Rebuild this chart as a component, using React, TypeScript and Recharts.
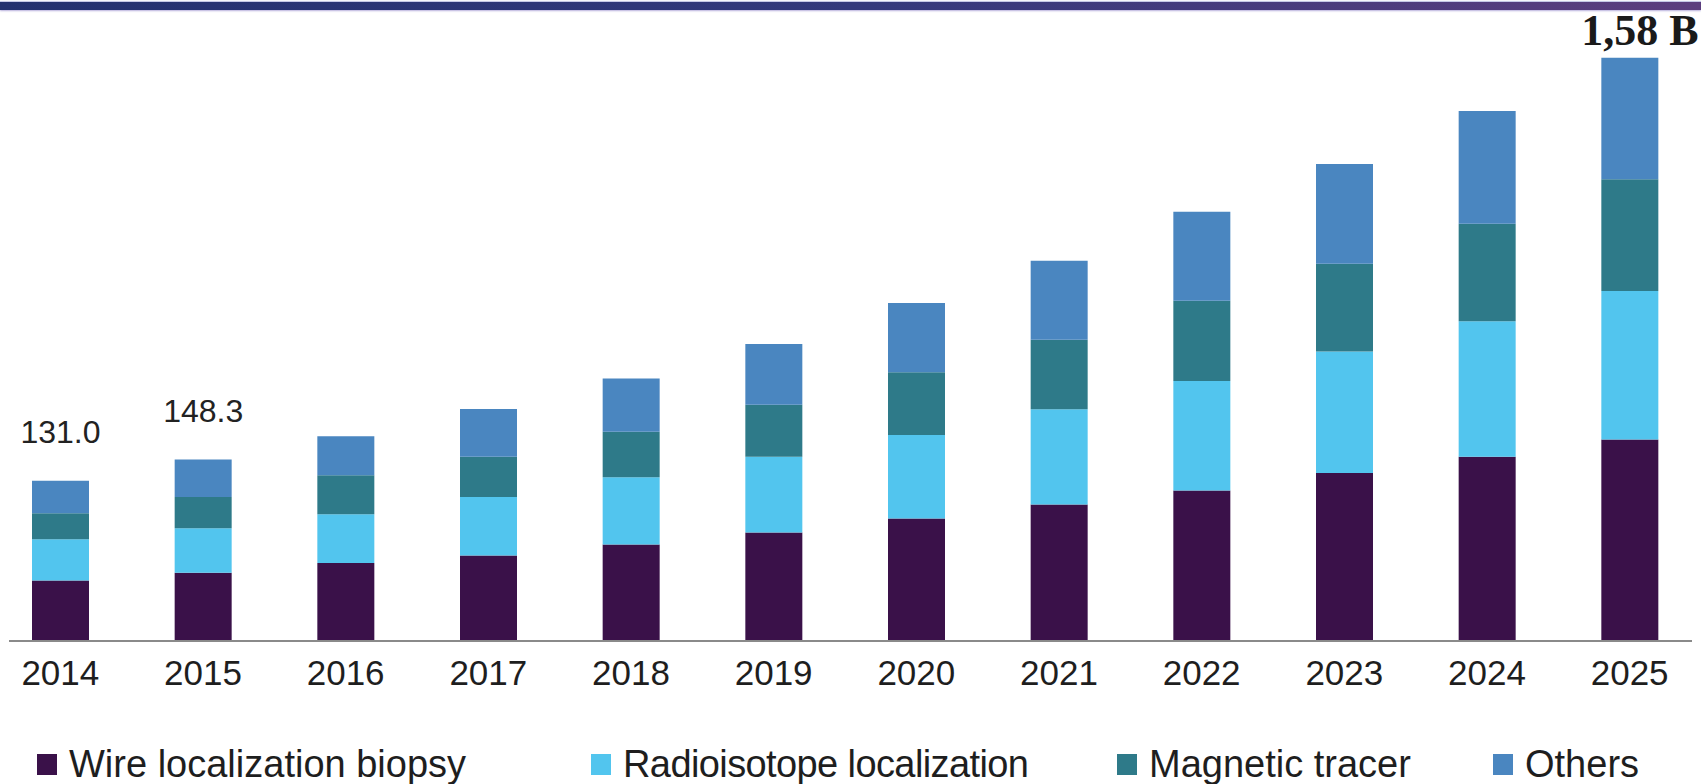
import { Bar, BarChart, LabelList, Legend, XAxis, YAxis } from "recharts";

// market size by product, stacked bottom to top
const years = ["2014", "2015", "2016", "2017", "2018", "2019", "2020", "2021", "2022", "2023", "2024", "2025"];
const wire = [49.5, 55.7, 63.7, 69.9, 78.8, 88.6, 100.1, 111.6, 123.1, 137.3, 150.6, 164.8];
const radio = [33.7, 36.4, 39.9, 47.9, 55.0, 62.0, 68.2, 77.9, 89.5, 99.3, 110.8, 121.4];
const magnetic = [21.2, 25.7, 31.9, 32.8, 37.2, 42.6, 51.4, 56.8, 65.6, 71.8, 79.7, 91.3];
const others = [26.6, 30.5, 31.9, 39.0, 43.5, 49.6, 56.7, 64.6, 72.7, 81.5, 92.2, 99.3];
const totalLabels = ["131.0", "148.3", "", "", "", "", "", "", "", "", "", "1,58 B"];

const series = [
  { key: "wire", name: "Wire localization biopsy", color: "#3a1149", slot: 554 },
  { key: "radio", name: "Radioisotope localization", color: "#52c5ee", slot: 526 },
  { key: "magnetic", name: "Magnetic tracer", color: "#2e7a89", slot: 376 },
  { key: "others", name: "Others", color: "#4a86c0", slot: 170 },
];

const data = years.map((year, i) => ({
  year,
  wire: wire[i],
  radio: radio[i],
  magnetic: magnetic[i],
  others: others[i],
  label: totalLabels[i],
}));

const SANS = '"Liberation Sans", Arial, sans-serif';

function TotalLabel(props: any) {
  const vb = props.viewBox || props;
  const x = vb.x ?? props.x;
  const y = vb.y ?? props.y;
  const w = vb.width ?? props.width;
  const value = props.value;
  if (!value) return null;
  const last = props.index === years.length - 1;
  if (last) {
    return (
      <text
        x={x + w / 2 + 10}
        y={y - 13}
        textAnchor="middle"
        fontFamily='"Liberation Serif", "Times New Roman", serif'
        fontWeight="bold"
        fontSize={44}
        fill="#1a1a1a"
      >
        {value}
      </text>
    );
  }
  return (
    <text x={x + w / 2} y={y - 38} textAnchor="middle" fontFamily={SANS} fontSize={32} fill="#222">
      {value}
    </text>
  );
}

function LegendRow() {
  return (
    <div
      style={{
        display: "flex",
        alignItems: "center",
        fontFamily: SANS,
        fontSize: 38,
        lineHeight: 1,
        color: "#1e1e1e",
        height: 38,
      }}
    >
      {series.map((s) => (
        <div key={s.key} style={{ display: "flex", alignItems: "center", whiteSpace: "nowrap", width: s.slot }}>
          <span style={{ width: 20, height: 21, background: s.color, marginRight: 12, display: "inline-block" }} />
          <span style={{ letterSpacing: s.key === "radio" ? -0.6 : 0 }}>{s.name}</span>
        </div>
      ))}
    </div>
  );
}

export default function App() {
  return (
    <div style={{ position: "fixed", left: 0, top: 0, width: 1701, height: 784, background: "#fff", overflow: "hidden" }}>
      <div
        style={{
          position: "absolute",
          left: 0,
          top: 2,
          width: 1701,
          height: 8,
          background: "linear-gradient(to right, #23316f, #33397c 50%, #5c3e7e)",
          boxShadow: "0 1px 2px #b7b0dc, 0 -1px 1px #c4c9e6",
        }}
      />
      <BarChart width={1701} height={784} data={data} margin={{ top: 0, right: 9, bottom: 83, left: 9 }}>
        <XAxis
          dataKey="year"
          height={60}
          padding={{ left: -20, right: -9 }}
          axisLine={{ stroke: "#8a8a8a", strokeWidth: 2 }}
          tickLine={false}
          tickSize={0}
          tickMargin={19}
          tick={{ fontFamily: SANS, fontSize: 35, fill: "#1e1e1e" }}
          interval={0}
        />
        <YAxis hide domain={[0, 524]} />
        {series.map((s) => (
          <Bar key={s.key} dataKey={s.key} name={s.name} stackId="a" fill={s.color} barSize={57} isAnimationActive={false}>
            {s.key === "others" && <LabelList dataKey="label" content={TotalLabel} />}
          </Bar>
        ))}
        <Legend
          verticalAlign="middle"
          align="center"
          layout="horizontal"
          wrapperStyle={{ top: 745, left: 37, width: 1640, height: 38 }}
          content={() => <LegendRow />}
        />
      </BarChart>
    </div>
  );
}
